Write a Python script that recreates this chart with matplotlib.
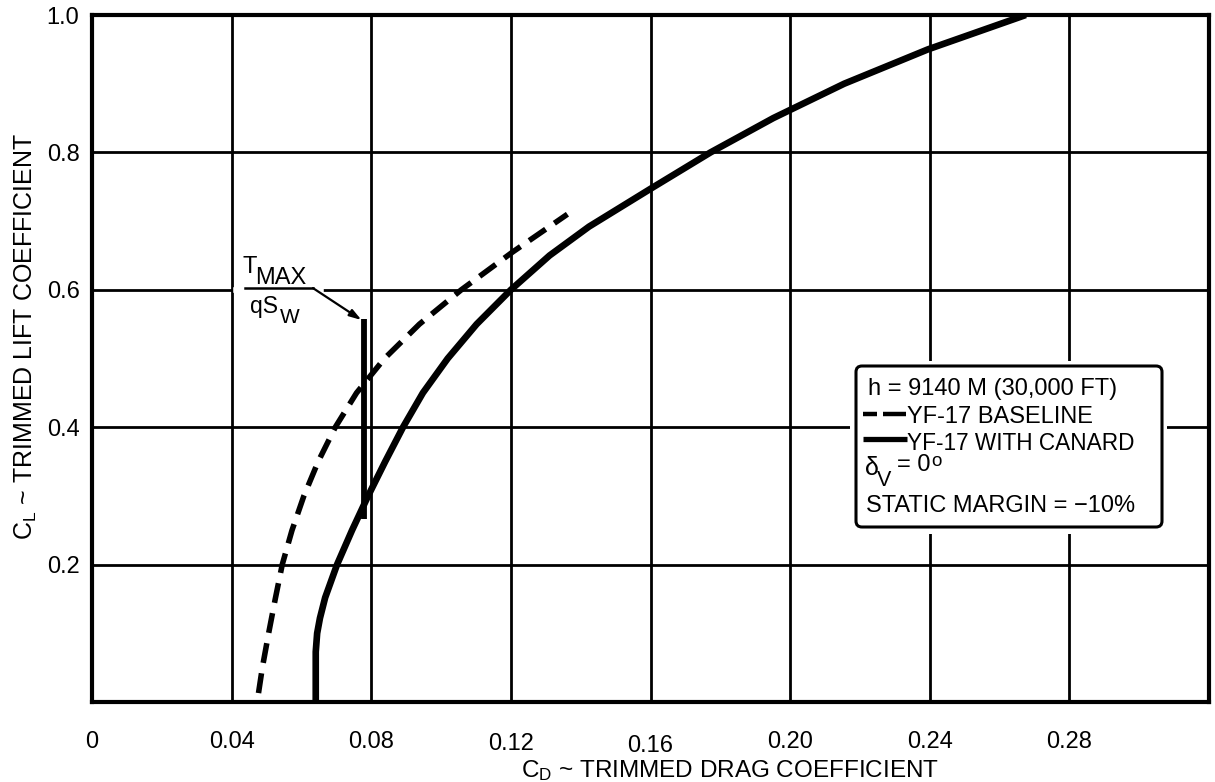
import matplotlib
matplotlib.use("Agg")
import matplotlib.pyplot as plt
from matplotlib.patches import FancyBboxPatch, Rectangle
from matplotlib.lines import Line2D
from matplotlib.transforms import ScaledTranslation

plt.rcParams['font.family'] = ['Liberation Sans', 'DejaVu Sans']

# Trimmed drag polar, YF-17 baseline (dashed curve)
baseline_cl = [0.013, 0.05, 0.10, 0.15, 0.20, 0.25, 0.30, 0.35, 0.40,
               0.45, 0.50, 0.55, 0.60, 0.655, 0.71]
baseline_cd = [0.0477, 0.0488, 0.0506, 0.0525, 0.0545, 0.0573, 0.0607, 0.0648,
               0.0697, 0.0758, 0.0838, 0.0938, 0.1058, 0.1205, 0.1362]

# Trimmed drag polar, YF-17 with canard (solid curve)
canard_cl = [0.000, 0.050, 0.073, 0.100, 0.122, 0.152, 0.200, 0.250, 0.300,
             0.350, 0.400, 0.450, 0.500, 0.550, 0.600, 0.650, 0.692, 0.747,
             0.800, 0.850, 0.900, 0.950, 1.000]
canard_cd = [0.0641, 0.0641, 0.0641, 0.0645, 0.0653, 0.0668, 0.0702, 0.0745, 0.0791,
             0.0840, 0.0891, 0.0948, 0.1019, 0.1102, 0.1200, 0.1311, 0.1424, 0.1600,
             0.1772, 0.1952, 0.2155, 0.2395, 0.2675]

# Maximum thrust line T_MAX / qS_W
tmax_cd = [0.078, 0.078]
tmax_cl = [0.266, 0.557]

x_ticks = [0.0, 0.04, 0.08, 0.12, 0.16, 0.20, 0.24, 0.28]
x_labels = ["0", "0.04", "0.08", "0.12", "0.16", "0.20", "0.24", "0.28"]
y_ticks = [0.2, 0.4, 0.6, 0.8, 1.0]
y_labels = ["0.2", "0.4", "0.6", "0.8", "1.0"]

W, H = 1215, 782
fig = plt.figure(figsize=(W / 100, H / 100), dpi=100)
ax = fig.add_axes([92 / W, 1 - 702 / H, 1117 / W, 687 / H])


def inch(px, py):
    """Pixel position (from top-left) to figure inches."""
    return px / 100, (H - py) / 100


TI = fig.dpi_scale_trans

# curves
ax.plot(canard_cd, canard_cl, color='black', lw=4.8,
        solid_capstyle='butt', solid_joinstyle='round', zorder=4)
ax.plot(baseline_cd, baseline_cl, color='black', lw=4.0, dashes=(3.6, 1.9),
        dash_capstyle='butt', dash_joinstyle='round', zorder=4)
ax.plot(tmax_cd, tmax_cl, color='black', lw=4.2, solid_capstyle='butt', zorder=4)

# T_MAX / qS_W label
ax.plot([0.0412, 0.0655], [0.600, 0.600], color='white', lw=4, zorder=1)
ax.plot([0.0437, 0.0633], [0.6025, 0.6025], color='black', lw=1.8, zorder=3)
ax.annotate('', xy=(0.0772, 0.556), xytext=(0.0633, 0.6025),
            arrowprops=dict(arrowstyle='-|>,head_length=0.7,head_width=0.22',
                            color='black', lw=1.6, shrinkA=0, shrinkB=0),
            zorder=3)
ax.text(0.0430, 0.624, 'T', fontsize=17, va='baseline')
ax.text(0.0468, 0.609, 'MAX', fontsize=17, va='baseline')
ax.text(0.0452, 0.566, 'qS', fontsize=16.5, va='baseline')
ax.text(0.0538, 0.552, 'W', fontsize=15, va='baseline')

# axes, grid and ticks
ax.set_xticks(x_ticks, x_labels)
ax.set_yticks(y_ticks, y_labels)
ax.tick_params(length=0, labelsize=17, colors='black')
ax.tick_params(axis='x', pad=21)
ax.tick_params(axis='y', pad=9)
ax.grid(True, color='black', lw=2.0)
ax.set_axisbelow(True)
for s in ax.spines.values():
    s.set_linewidth(3.0)
    s.set_color('black')

for lab in ax.get_xticklabels():
    if lab.get_text() in ("0.12", "0.16"):
        dy = -2 if lab.get_text() == "0.12" else -4
        lab.set_transform(lab.get_transform() + ScaledTranslation(0, dy / 100, TI))

# legend box
mx0, my0 = inch(850, 534)
mx1, my1 = inch(1167, 361)
ax.add_patch(Rectangle((mx0, my0), mx1 - mx0, my1 - my0, transform=TI,
                       facecolor='white', edgecolor='none', zorder=1, clip_on=False))
bx0, by0 = inch(856, 527)
bx1, by1 = inch(1162, 366)
ax.add_patch(FancyBboxPatch((bx0, by0), bx1 - bx0, by1 - by0,
                            boxstyle='round,pad=0,rounding_size=0.06', transform=TI,
                            facecolor='white', edgecolor='black', lw=2.2,
                            zorder=5, clip_on=False))

legend_fs = 17


def ltext(px, py, s, fs=legend_fs):
    x, y = inch(px, py)
    ax.text(x, y, s, transform=TI, fontsize=fs, va='baseline', ha='left', zorder=6)


def lline(px0, px1, py, **kw):
    x0, y = inch(px0, py)
    x1, _ = inch(px1, py)
    ax.add_line(Line2D([x0, x1], [y, y], transform=TI, color='black',
                       zorder=6, clip_on=False, **kw))


ltext(868, 395, 'h = 9140 M (30,000 FT)')
lline(863, 877, 414, lw=3.2, solid_capstyle='butt')
lline(883, 906, 414, lw=3.2, solid_capstyle='butt')
ltext(907, 423, 'YF-17 BASELINE')
lline(863, 907, 439, lw=3.8, solid_capstyle='butt')
ltext(907, 450, 'YF-17 WITH CANARD', fs=16.3)
ltext(865, 475, 'δ', fs=18)
ltext(877, 486, 'V', fs=15.5)
ltext(897, 471, '= 0')
ltext(931, 466, 'o', fs=13.5)
ltext(866, 512, 'STATIC MARGIN = −10%')

# axis titles
fig.text(730 / W, 1 - 777 / H, r'$\mathregular{C_D}$ ~ TRIMMED DRAG COEFFICIENT',
         fontsize=17.5, ha='center', va='baseline')
fig.text(26 / W, 1 - 336 / H, r'$\mathregular{C_L}$ ~ TRIMMED LIFT COEFFICIENT',
         fontsize=18, ha='center', va='center', rotation=90)

ax.set_xlim(0, 0.32)
ax.set_ylim(0, 1.0)

fig.savefig('out.png', dpi=100)
